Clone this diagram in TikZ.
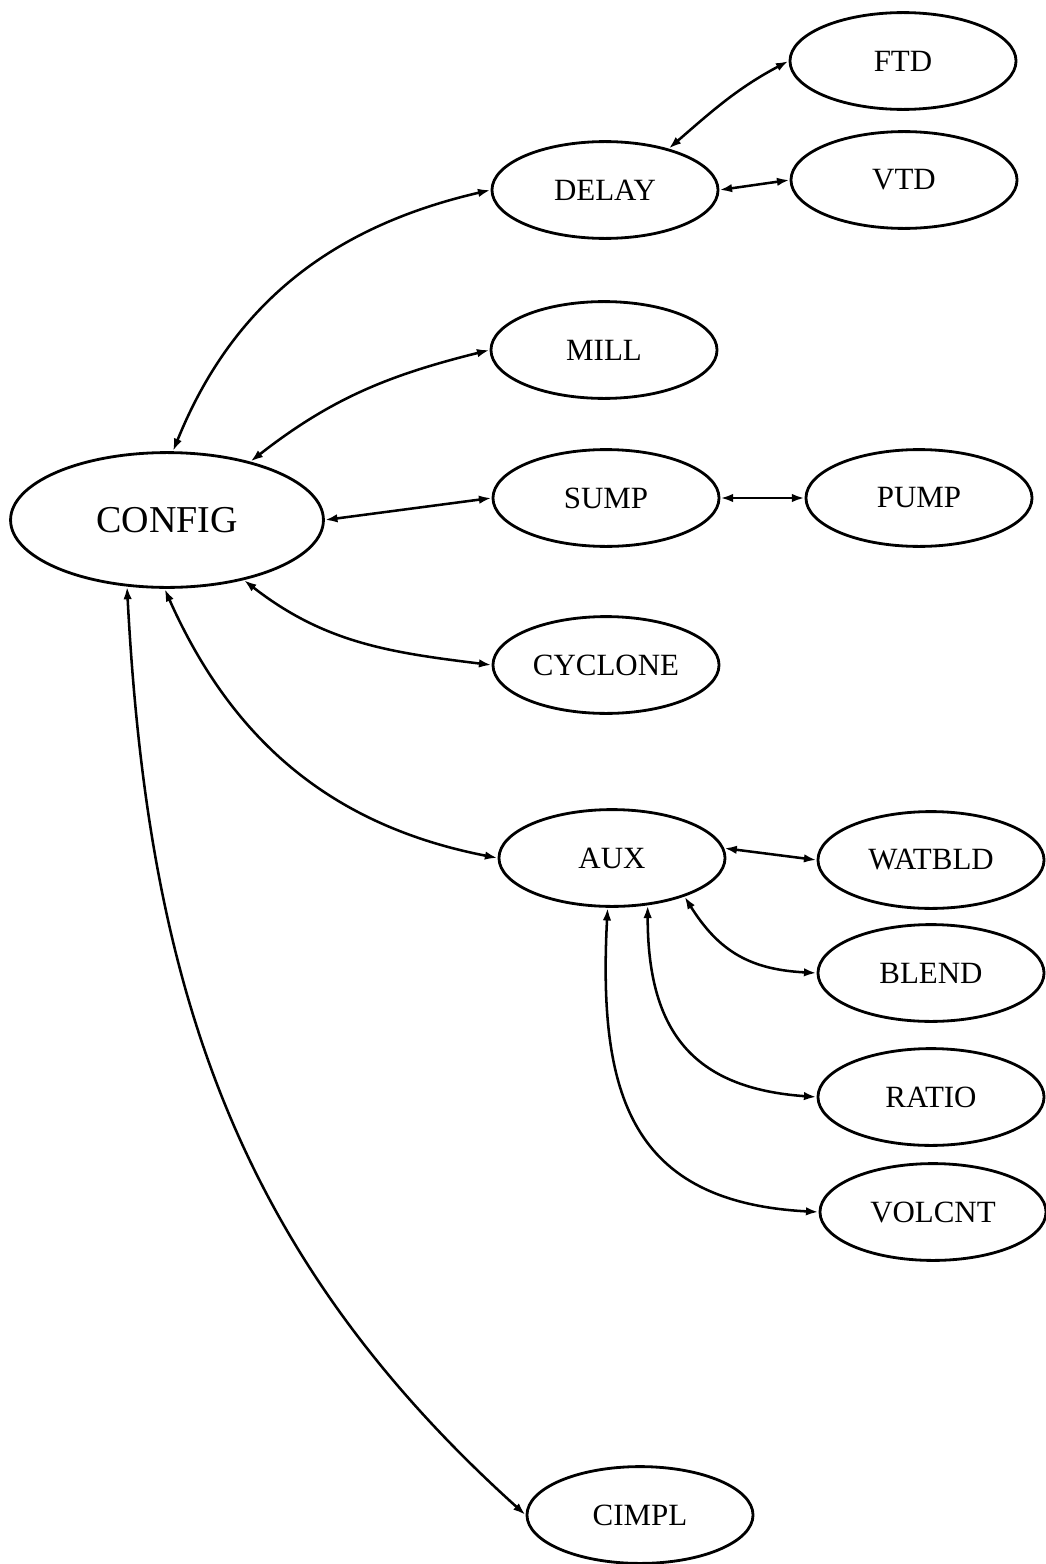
\documentclass[tikz,border=0pt]{standalone}
\usepackage{fontspec}
\setmainfont{Liberation Serif}
\usetikzlibrary{
    arrows.meta,
    shapes.geometric
}

\begin{document}
\begin{tikzpicture}[x=0.025cm, y=0.025cm, >={Latex[length=9pt,width=6pt]},
    line cap=round, line join=round]
  \tikzset{
    module/.style={draw, ellipse, line width=2pt, inner sep=0pt,
      minimum width=5.65cm, minimum height=2.42cm,
      font=\fontsize{22}{26}\selectfont},
    rootmod/.style={module, minimum width=7.82cm, minimum height=3.37cm,
      font=\fontsize{27}{32}\selectfont},
    link/.style={<->, line width=1.8pt}
  }
  \useasboundingbox (0,0) rectangle (1045,-1564);

  % Root
  \node[rootmod] (CONFIG) at (167,-520) {CONFIG};

  % First level
  \node[module] (DELAY)   at (605,-190)  {DELAY};
  \node[module] (MILL)    at (604,-350)  {MILL};
  \node[module] (SUMP)    at (606,-498)  {SUMP};
  \node[module] (CYCLONE) at (606,-665)  {CYCLONE};
  \node[module] (AUX)     at (612,-858)  {AUX};
  \node[module] (CIMPL)   at (640,-1515) {CIMPL};

  % Second level
  \node[module] (FTD)    at (903,-61)   {FTD};
  \node[module] (VTD)    at (904,-180)  {VTD};
  \node[module] (PUMP)   at (919,-498)  {PUMP};
  \node[module] (WATBLD) at (931,-860)  {WATBLD};
  \node[module] (BLEND)  at (931,-973)  {BLEND};
  \node[module] (RATIO)  at (931,-1097) {RATIO};
  \node[module] (VOLCNT) at (933,-1212) {VOLCNT};

  % CONFIG links
  \draw[link] (CONFIG.85) to[out=68, in=193] (DELAY.west);
  \draw[link] (CONFIG.35) to[out=38, in=194] (MILL.west);
  \draw[link] (CONFIG.east) -- (SUMP.west);
  \draw[link] (CONFIG.-38) to[out=-38, in=173] (CYCLONE.west);
  \draw[link] (CONFIG.268) to[out=-66, in=169] (AUX.west);
  \draw[link] (CONFIG.239) to[out=-87, in=138] (CIMPL.west);

  % DELAY links
  \draw[link] (DELAY.33) to[out=41, in=208] (FTD.west);
  \draw[link] (DELAY.east) -- (VTD.west);

  % SUMP link
  \draw[link] (SUMP.east) -- (PUMP.west);

  % AUX links
  \draw[link] (AUX.5) -- (WATBLD.west);
  \draw[link] (AUX.-28) to[out=-58, in=177, looseness=1.1] (BLEND.west);
  \draw[link] (AUX.-53) to[out=-90, in=176, looseness=1.25] (RATIO.west);
  \draw[link] (AUX.265) to[out=-93, in=177, looseness=1.3] (VOLCNT.west);

\end{tikzpicture}
\end{document}
